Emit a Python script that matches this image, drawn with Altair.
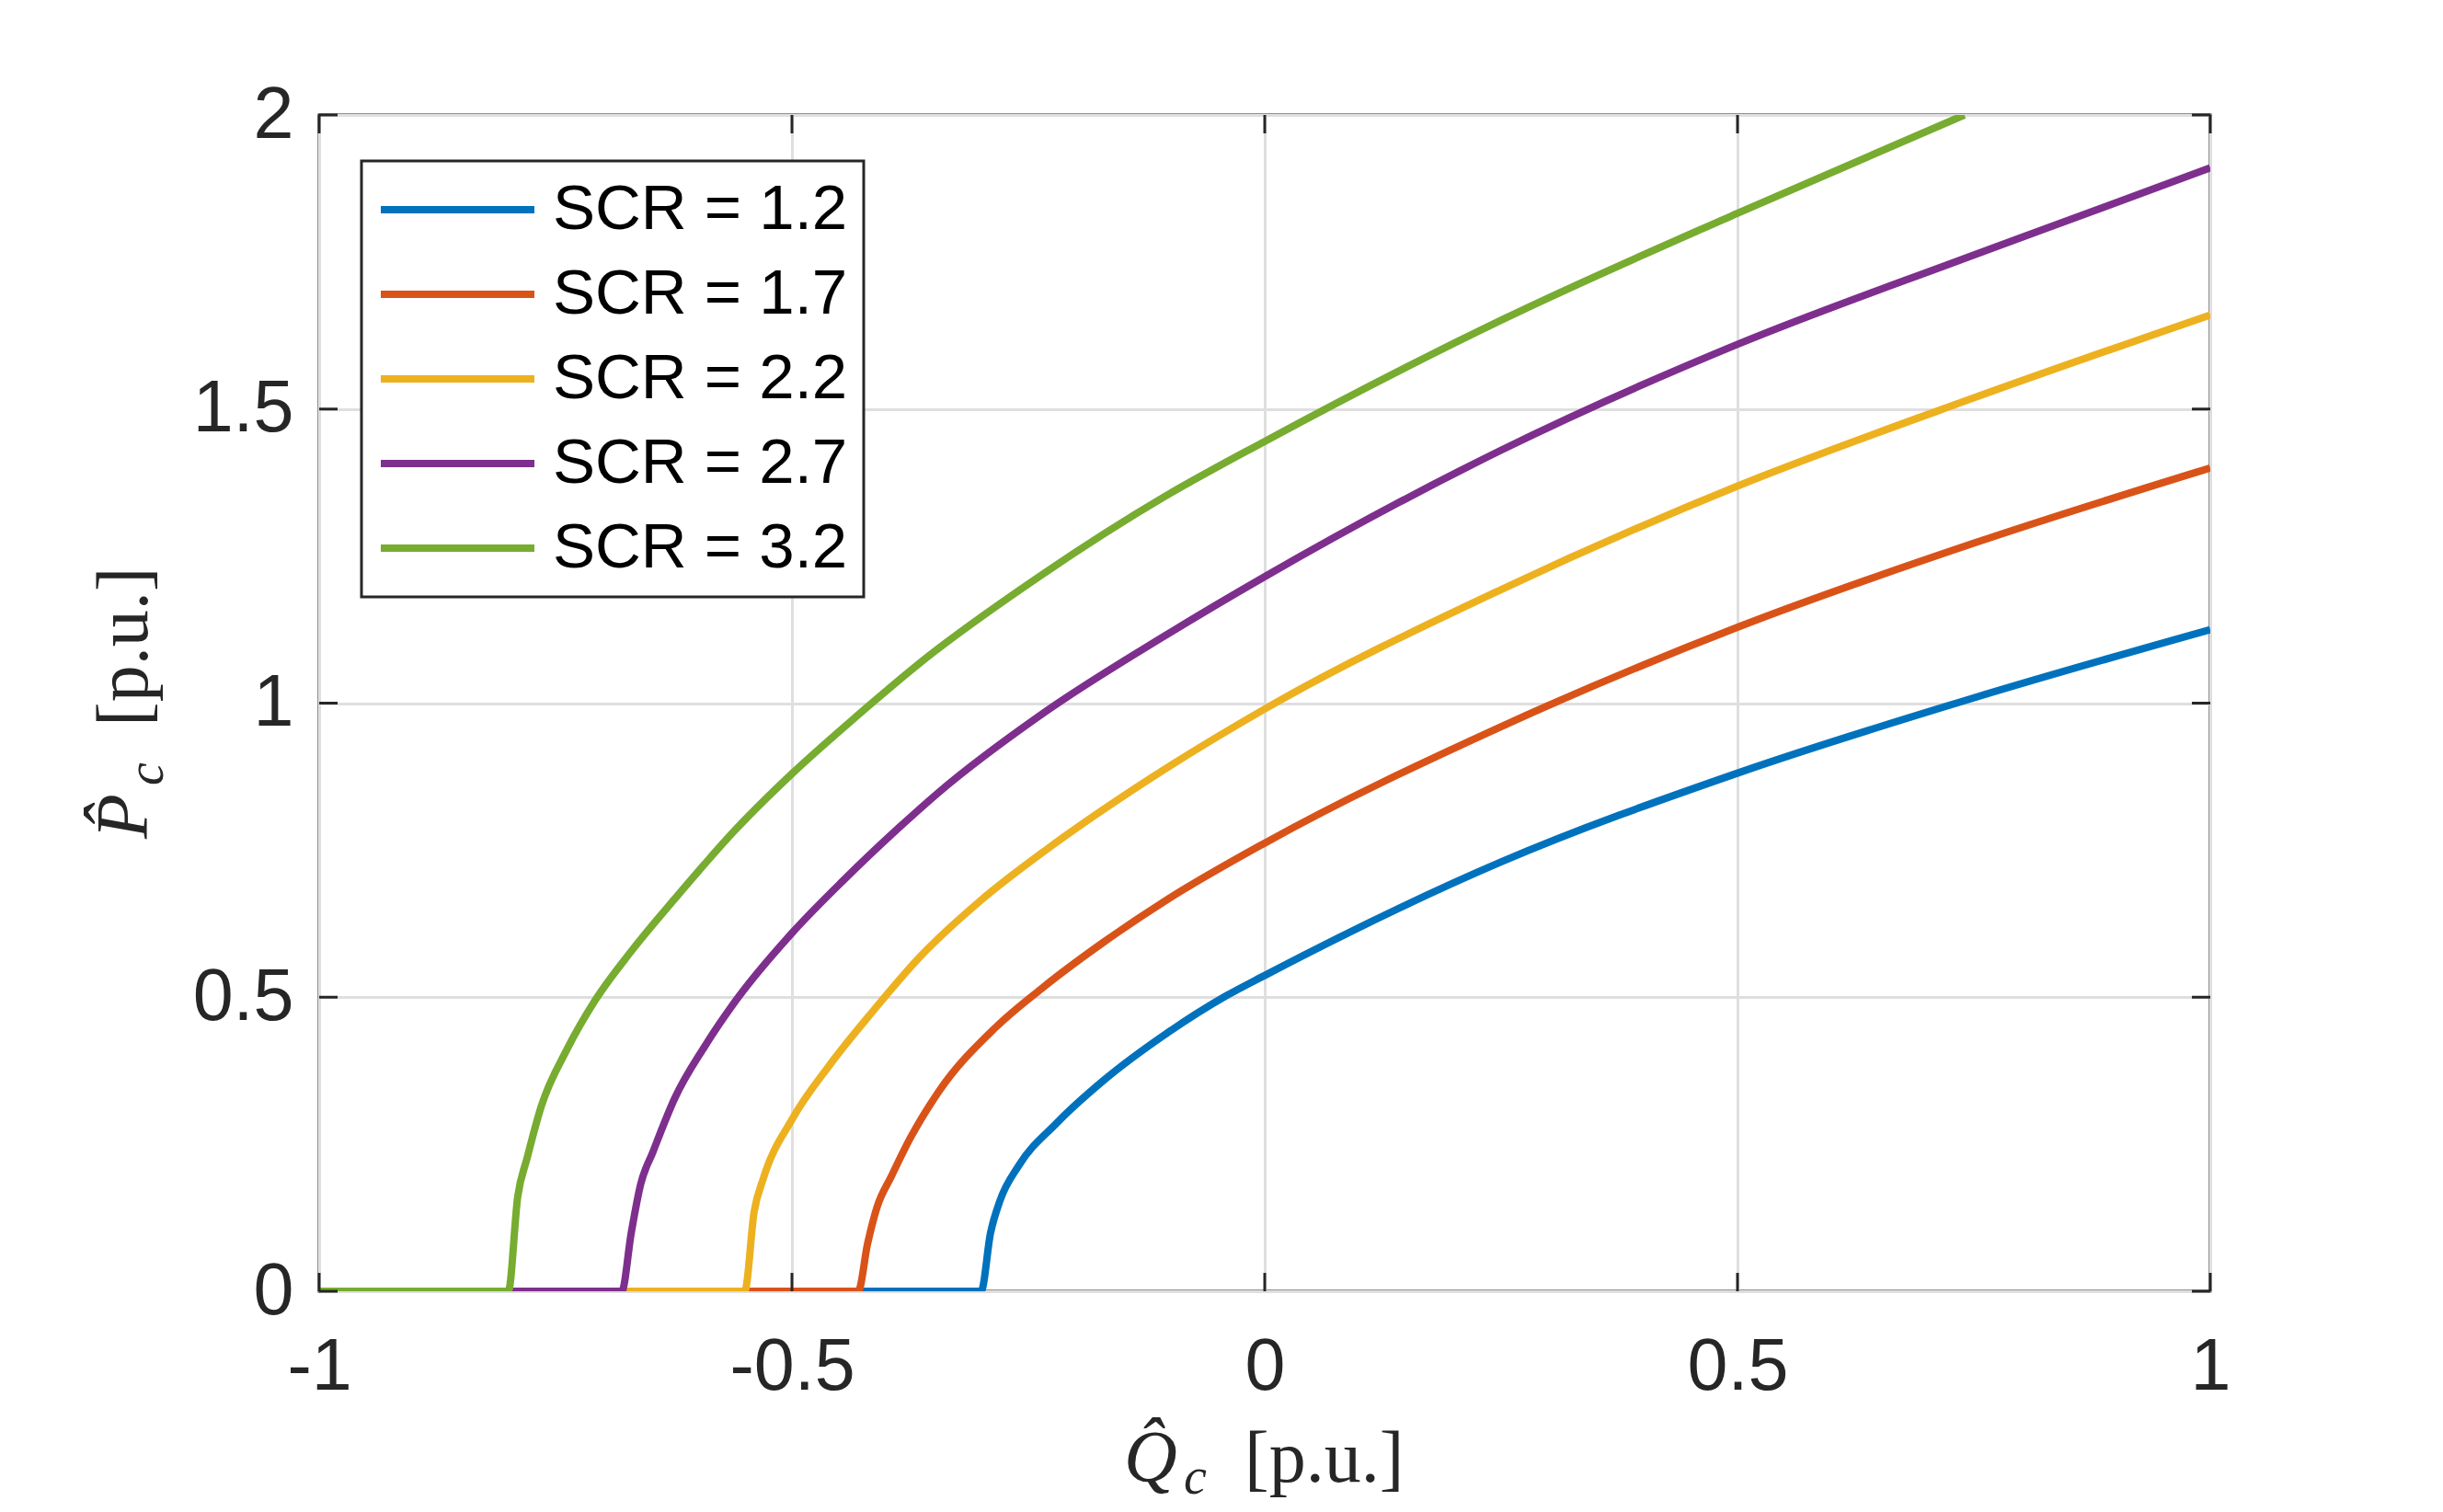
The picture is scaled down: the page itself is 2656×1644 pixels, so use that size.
import altair as alt
import pandas as pd

# ---- data ----
series_names = ["SCR = 1.2", "SCR = 1.7", "SCR = 2.2", "SCR = 2.7", "SCR = 3.2"]
series_colors = ["#0072BD", "#D95319", "#EDB120", "#7E2F8E", "#77AC30"]

q_12 = [-1.0, -0.30, -0.29, -0.28, -0.26, -0.22, -0.17, -0.105, -0.04, 0.0, 0.25, 0.5, 0.75, 1.0]
p_12 = [0.0, 0.0, 0.099, 0.154, 0.214, 0.286, 0.359, 0.437, 0.503, 0.537, 0.730, 0.881, 1.009, 1.125]

q_17 = [-1.0, -0.43, -0.42, -0.41, -0.395, -0.375, -0.345, -0.285, -0.235, -0.17, -0.105, 0.0, 0.25, 0.5, 0.75, 1.0]
p_17 = [0.0, 0.0, 0.081, 0.143, 0.195, 0.260, 0.339, 0.448, 0.516, 0.594, 0.664, 0.762, 0.960, 1.129, 1.272, 1.400]

q_22 = [-1.0, -0.55, -0.54, -0.53, -0.5, -0.46, -0.415, -0.365, -0.30, -0.23, -0.14, 0.0, 0.25, 0.5, 0.75, 1.0]
p_22 = [0.0, 0.0, 0.135, 0.193, 0.292, 0.385, 0.475, 0.568, 0.665, 0.752, 0.852, 0.990, 1.193, 1.369, 1.519, 1.660]

q_27 = [-1.0, -0.68, -0.67, -0.66, -0.647, -0.624, -0.592, -0.559, -0.5, -0.446, -0.387, -0.345, -0.235, -0.105, 0.0, 0.25, 0.5, 0.75, 1.0]
p_27 = [0.0, 0.0, 0.099, 0.182, 0.237, 0.328, 0.417, 0.495, 0.609, 0.698, 0.788, 0.848, 0.982, 1.115, 1.215, 1.430, 1.610, 1.762, 1.910]

q_32 = [-1.0, -0.80, -0.79, -0.78, -0.765, -0.738, -0.708, -0.67, -0.624, -0.559, -0.5, -0.43, -0.365, -0.235, -0.105, 0.0, 0.25, 0.5, 0.74]
p_32 = [0.0, 0.0, 0.161, 0.227, 0.315, 0.411, 0.495, 0.578, 0.667, 0.786, 0.880, 0.980, 1.068, 1.219, 1.352, 1.445, 1.651, 1.833, 2.000]

x_ticks = [-1.0, -0.5, 0.0, 0.5, 1.0]
y_ticks = [0.0, 0.5, 1.0, 1.5, 2.0]

# ---- build table ----
rows = []
for name, qs, ps in zip(series_names,
                        [q_12, q_17, q_22, q_27, q_32],
                        [p_12, p_17, p_22, p_27, p_32]):
    for i, (q, p) in enumerate(zip(qs, ps)):
        rows.append({"series": name, "Q": q, "P": p, "order": i})
df = pd.DataFrame(rows)

W, H = 2056, 1279
TICK = 20
AX = "#262626"

xscale = alt.Scale(domain=[-1, 1], nice=False, zero=False)
yscale = alt.Scale(domain=[0, 2], nice=False, zero=False)

lines = alt.Chart(df).mark_line(strokeWidth=8, clip=True, interpolate="monotone").encode(
    x=alt.X("Q:Q", scale=xscale,
            axis=alt.Axis(values=x_ticks, title=None, grid=True, ticks=False, tickSize=0,
                          domain=False, labelFontSize=79, labelFont="Liberation Sans",
                          labelColor=AX, labelPadding=44, labelExpr="'' + datum.value",
                          labelFlush=False,
                          gridColor="#dfdfdf", gridWidth=3)),
    y=alt.Y("P:Q", scale=yscale,
            axis=alt.Axis(values=y_ticks, title=None, grid=True, ticks=False, tickSize=0,
                          domain=False, labelFontSize=79, labelFont="Liberation Sans",
                          labelColor=AX, labelPadding=28, labelExpr="'' + datum.value",
                          labelFlush=False,
                          gridColor="#dfdfdf", gridWidth=3)),
    color=alt.Color("series:N",
                    scale=alt.Scale(domain=series_names, range=series_colors),
                    sort=series_names,
                    legend=alt.Legend(orient="none", legendX=46, legendY=50, title=None,
                                      symbolType="stroke", symbolSize=167 * 167,
                                      symbolStrokeWidth=8, clipHeight=72, rowPadding=20,
                                      labelOffset=16, labelFontSize=69,
                                      labelFont="Liberation Sans", labelColor="black",
                                      strokeColor=AX, fillColor="white", padding=17,
                                      labelLimit=1000)),
    order="order:Q",
)

xt = pd.DataFrame({"v": x_ticks})
yt = pd.DataFrame({"v": y_ticks})

xt_bottom = alt.Chart(xt).mark_rule(color=AX, strokeWidth=3).encode(
    x=alt.X("v:Q", scale=xscale), y=alt.value(H), y2=alt.value(H - TICK))
xt_top = alt.Chart(xt).mark_rule(color=AX, strokeWidth=3).encode(
    x=alt.X("v:Q", scale=xscale), y=alt.value(0), y2=alt.value(TICK))
yt_left = alt.Chart(yt).mark_rule(color=AX, strokeWidth=3).encode(
    y=alt.Y("v:Q", scale=yscale), x=alt.value(0), x2=alt.value(TICK))
yt_right = alt.Chart(yt).mark_rule(color=AX, strokeWidth=3).encode(
    y=alt.Y("v:Q", scale=yscale), x=alt.value(W - TICK), x2=alt.value(W))

def txt(s, x, y, size, style="normal", angle=0):
    return alt.Chart(pd.DataFrame({"t": [s]})).mark_text(
        font="Liberation Serif", fontSize=size, fontStyle=style, color=AX,
        align="left", baseline="alphabetic", angle=angle
    ).encode(text="t:N", x=alt.value(x), y=alt.value(y))

titles = [
    txt("Q\u0302", 875, 1486, 80, "italic"),
    txt("c", 940, 1499, 56, "italic"),
    txt("[p.u.]", 1006, 1486, 80),
    txt("P\u0302", -187, 787, 80, "italic", 270),
    txt("c", -170, 729, 56, "italic", 270),
    txt("[p.u.]", -187, 665, 80, "normal", 270),
]

chart = alt.layer(lines, xt_bottom, xt_top, yt_left, yt_right, *titles).properties(
    width=W, height=H,
    autosize=alt.AutoSizeParams(type="none"),
    padding={"left": 339, "top": 117, "right": 200, "bottom": 232},
    background="white",
).configure_view(stroke=AX, strokeWidth=3).configure_legend(strokeWidth=3)

chart.save("out.html", embed_options={"renderer": "svg", "actions": False})
